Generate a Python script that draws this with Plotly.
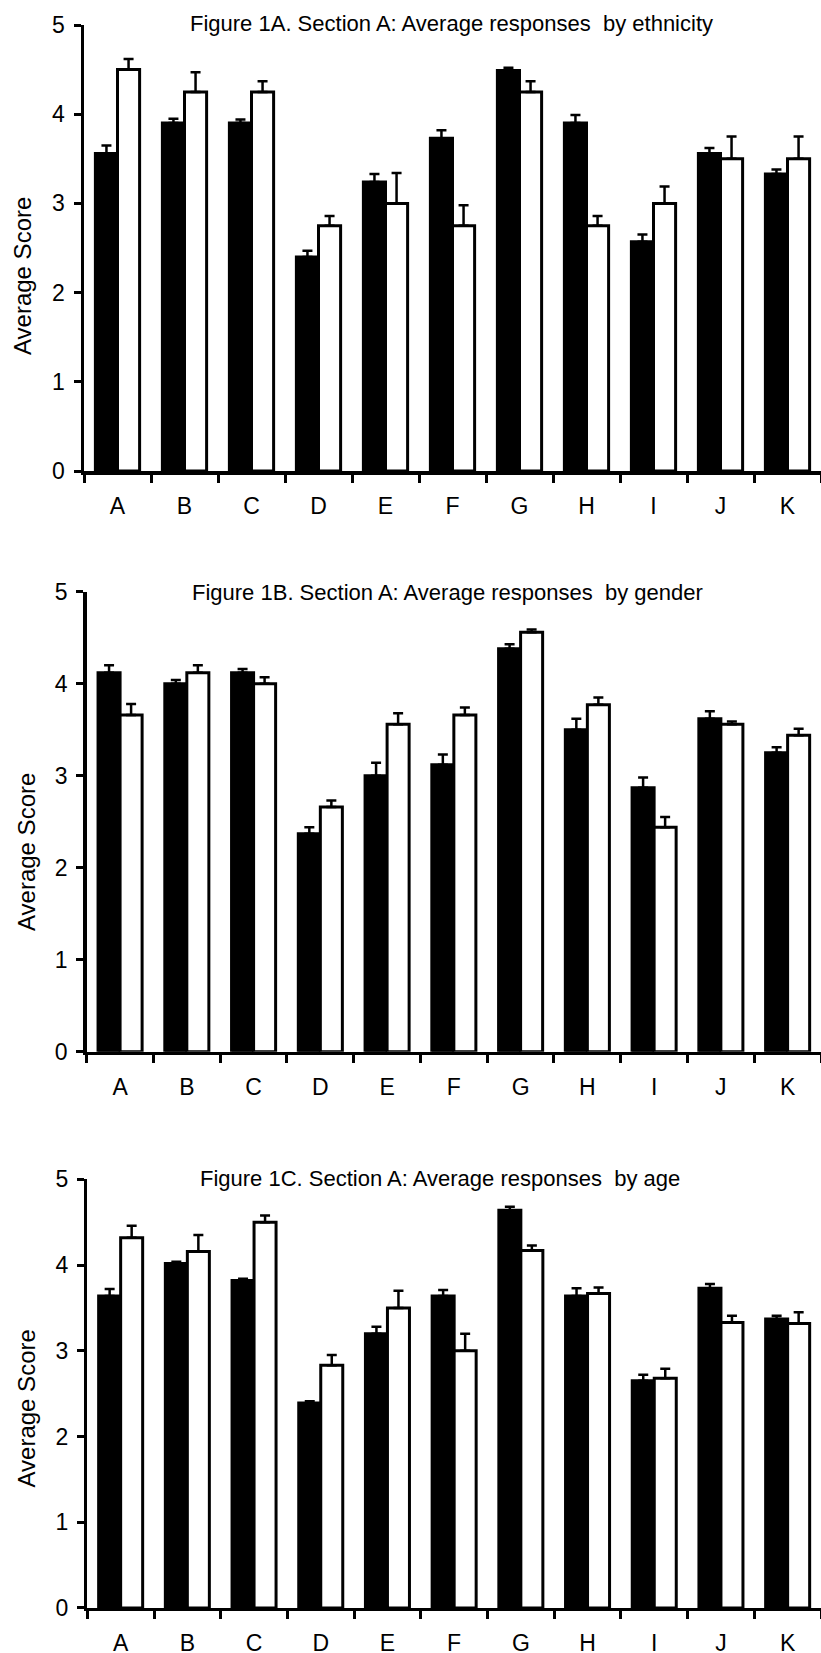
import plotly.graph_objects as go

categories = ["A", "B", "C", "D", "E", "F", "G", "H", "I", "J", "K"]

# Figure 1A: by ethnicity
eth_black = [3.56, 3.90, 3.90, 2.40, 3.24, 3.73, 4.49, 3.90, 2.57, 3.56, 3.33]
eth_black_err = [0.09, 0.05, 0.04, 0.07, 0.09, 0.09, 0.03, 0.09, 0.08, 0.06, 0.05]
eth_white = [4.50, 4.25, 4.25, 2.75, 3.00, 2.75, 4.25, 2.75, 3.00, 3.50, 3.50]
eth_white_err = [0.12, 0.22, 0.12, 0.11, 0.34, 0.23, 0.12, 0.11, 0.19, 0.25, 0.25]

# Figure 1B: by gender
gen_black = [4.12, 4.00, 4.12, 2.37, 3.00, 3.12, 4.38, 3.50, 2.87, 3.62, 3.25]
gen_black_err = [0.08, 0.04, 0.04, 0.07, 0.14, 0.11, 0.05, 0.12, 0.11, 0.08, 0.06]
gen_white = [3.66, 4.12, 4.00, 2.66, 3.56, 3.66, 4.56, 3.77, 2.44, 3.56, 3.44]
gen_white_err = [0.12, 0.08, 0.07, 0.07, 0.12, 0.08, 0.03, 0.08, 0.11, 0.03, 0.07]

# Figure 1C: by age
age_black = [3.64, 4.02, 3.82, 2.39, 3.20, 3.64, 4.64, 3.64, 2.65, 3.73, 3.37]
age_black_err = [0.08, 0.02, 0.02, 0.02, 0.08, 0.07, 0.04, 0.09, 0.07, 0.05, 0.04]
age_white = [4.32, 4.16, 4.50, 2.83, 3.50, 3.00, 4.17, 3.67, 2.68, 3.33, 3.32]
age_white_err = [0.14, 0.19, 0.08, 0.12, 0.20, 0.20, 0.06, 0.07, 0.11, 0.08, 0.13]

titles = [
    "Figure 1A. Section A: Average responses\u00a0 by ethnicity",
    "Figure 1B. Section A: Average responses\u00a0 by gender",
    "Figure 1C. Section A: Average responses\u00a0 by age",
]
y_title = "Average Score"

W, H = 821, 1653
FONT = "Liberation Sans, Arial, sans-serif"

panels = [
    (eth_black, eth_black_err, eth_white, eth_white_err),
    (gen_black, gen_black_err, gen_white, gen_white_err),
    (age_black, age_black_err, age_white, age_white_err),
]

# pixel geometry (y of zero line, y of 5, x of y-axis, title & axis-title centres)
geom = [
    dict(x0=84.0, y0=471.0, y5=25.0, tx=451.5, ty=23.0, ax=22.5, ay=276.5),
    dict(x0=86.7, y0=1051.7, y5=591.7, tx=447.0, ty=592.7, ax=26.0, ay=852.0),
    dict(x0=87.3, y0=1607.9, y5=1179.4, tx=440.0, ty=1178.3, ax=26.0, ay=1408.5),
]

fig = go.Figure()
annotations = []
for i, ((bv, be, wv, we), g) in enumerate(zip(panels, geom)):
    sfx = "" if i == 0 else str(i + 1)
    xa, ya = "x" + sfx, "y" + sfx
    fig.add_trace(go.Bar(
        x=categories, y=bv, xaxis=xa, yaxis=ya,
        marker=dict(color="black", line=dict(color="black", width=3)),
        error_y=dict(type="data", symmetric=False, array=be,
                     arrayminus=[0] * len(be), color="black",
                     thickness=2.5, width=5),
        showlegend=False,
    ))
    fig.add_trace(go.Bar(
        x=categories, y=wv, xaxis=xa, yaxis=ya,
        marker=dict(color="white", line=dict(color="black", width=3)),
        error_y=dict(type="data", symmetric=False, array=we,
                     arrayminus=[0] * len(we), color="black",
                     thickness=2.5, width=5),
        showlegend=False,
    ))
    xdom = [g["x0"] / W, 1.0]
    ydom = [(H - g["y0"]) / H, (H - g["y5"]) / H]
    fig.layout["xaxis" + sfx] = dict(
        domain=xdom, anchor=ya, type="category", range=[-0.5, 10.5],
        showline=True, linecolor="black", linewidth=3.5,
        ticks="outside", tickson="boundaries", ticklen=8, tickwidth=3,
        tickcolor="black", showgrid=False, zeroline=False,
        tickfont=dict(family=FONT, size=23, color="black"),
        ticklabelstandoff=12, automargin=False, fixedrange=True,
    )
    fig.layout["yaxis" + sfx] = dict(
        domain=ydom, anchor=xa, range=[0, 5], dtick=1,
        showline=True, linecolor="black", linewidth=3.5,
        ticks="outside", ticklen=7, tickwidth=3, tickcolor="black",
        showgrid=False, zeroline=False,
        tickfont=dict(family=FONT, size=23, color="black"),
        ticklabelstandoff=4, automargin=False, fixedrange=True,
    )
    annotations.append(dict(
        text=titles[i], xref="paper", yref="paper",
        x=g["tx"] / W, y=(H - g["ty"]) / H, xanchor="center", yanchor="middle",
        showarrow=False, font=dict(family=FONT, size=22, color="black"),
    ))
    annotations.append(dict(
        text=y_title, xref="paper", yref="paper", textangle=-90,
        x=g["ax"] / W, y=(H - g["ay"]) / H, xanchor="center", yanchor="middle",
        showarrow=False, font=dict(family=FONT, size=24, color="black"),
    ))

fig.update_layout(
    width=W, height=H, margin=dict(l=0, r=0, t=0, b=0),
    paper_bgcolor="white", plot_bgcolor="white",
    barmode="group", bargap=0.34, bargroupgap=0.0,
    annotations=annotations, showlegend=False,
)

fig.write_html(
    "out.html",
    config={"displayModeBar": False, "staticPlot": True},
    post_script="document.body.style.margin='0';document.body.style.overflow='hidden';",
)
